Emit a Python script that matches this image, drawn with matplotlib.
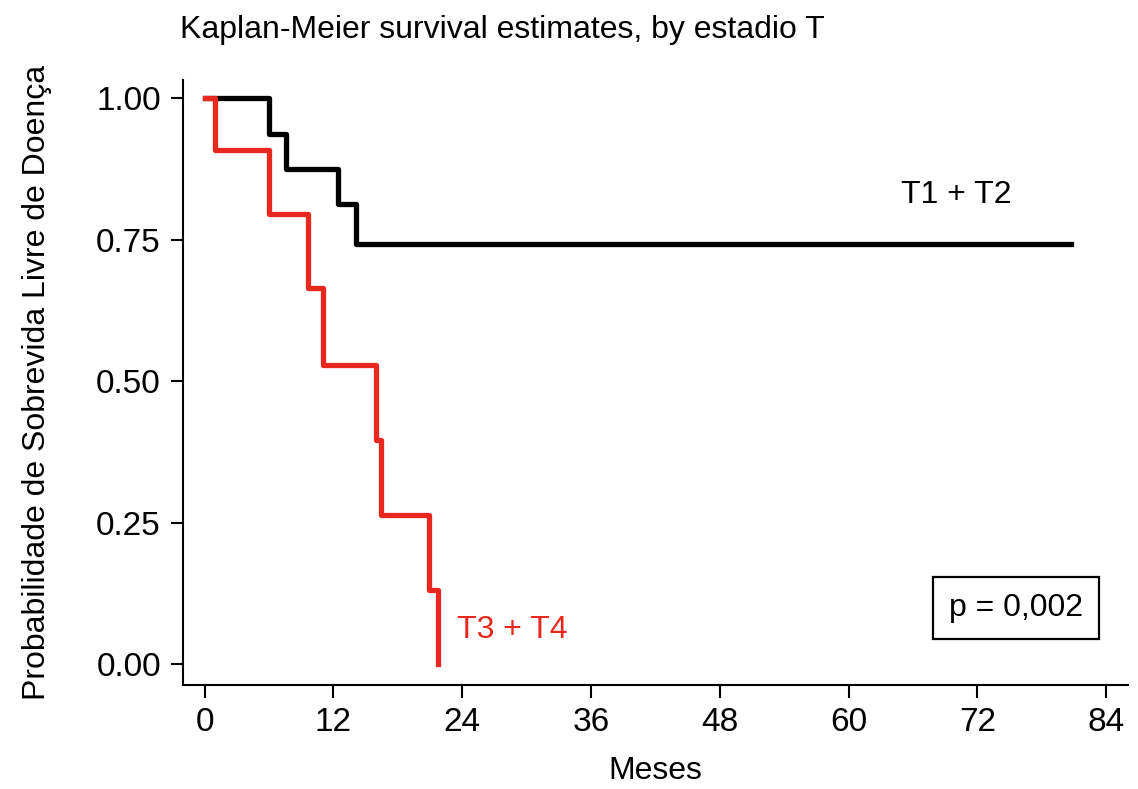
import matplotlib
matplotlib.use("Agg")
import matplotlib.pyplot as plt

plt.rcParams['font.family'] = ['Liberation Sans', 'DejaVu Sans']

# Kaplan-Meier step values
t12_times = [0, 6, 7.6, 12.4, 14.1, 80.7]
t12_surv = [1.00, 0.9375, 0.875, 0.8125, 0.742, 0.742]

t34_times = [0, 1, 6, 9.6, 11, 16, 16.4, 20.9, 21.7, 21.7]
t34_surv = [1.00, 0.909, 0.795, 0.664, 0.528, 0.396, 0.263, 0.131, 0.0, 0.0]

xticks = [0, 12, 24, 36, 48, 60, 72, 84]
yticks = [0.00, 0.25, 0.50, 0.75, 1.00]
ytick_labels = ["0.00", "0.25", "0.50", "0.75", "1.00"]

fs = 23

fig = plt.figure(figsize=(11.38, 7.89), dpi=100)
ax = fig.add_axes([0.161, 0.132, 0.830, 0.767])

ax.step(t12_times, t12_surv, where='post', color='black', lw=3.8)
ax.step(t34_times, t34_surv, where='post', color='#e8281e', lw=3.8)

ax.text(70, 0.83, "T1 + T2", color='black', fontsize=fs, ha='center', va='center')
ax.text(28.7, 0.06, "T3 + T4", color='#e8281e', fontsize=fs, ha='center', va='center')
ax.text(75.6, 0.099, "p = 0,002", color='black', fontsize=fs, ha='center', va='center',
        bbox=dict(boxstyle='square,pad=0.5', facecolor='white', edgecolor='black', lw=1.6))

ax.set_xlim(-2, 86)
ax.set_ylim(-0.037, 1.033)
ax.set_xticks(xticks)
ax.set_yticks(yticks)
ax.set_yticklabels(ytick_labels)
ax.tick_params(axis='both', direction='out', length=9, width=1.5, labelsize=24, pad=7)

for side in ['top', 'right']:
    ax.spines[side].set_visible(False)
for side in ['left', 'bottom']:
    ax.spines[side].set_linewidth(1.5)

ax.set_xlabel("Meses", fontsize=fs, labelpad=13)
ax.set_ylabel("Probabilidade de Sobrevida Livre de Doença", fontsize=fs, labelpad=32)
fig.text(0.158, 0.962, "Kaplan-Meier survival estimates, by estadio T", fontsize=fs,
         ha='left', va='center')

fig.savefig("out.png", dpi=100, facecolor='white')
